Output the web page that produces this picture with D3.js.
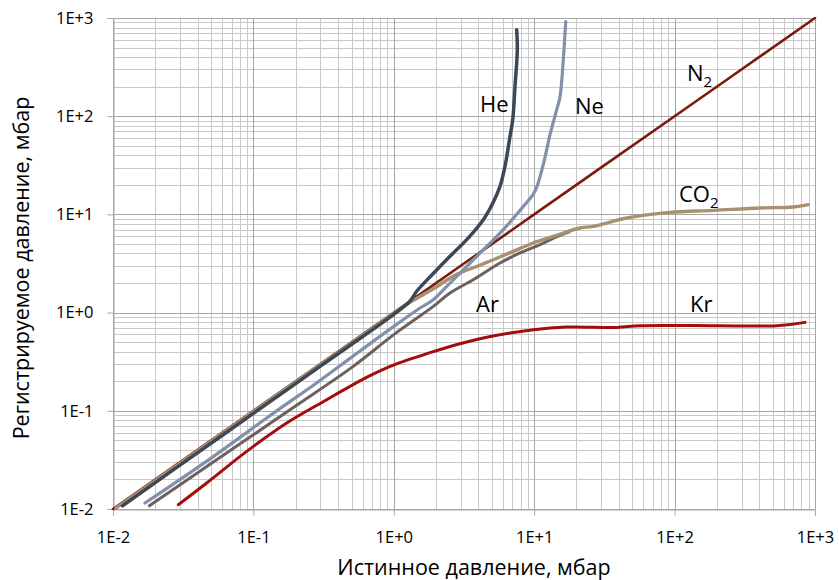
<!DOCTYPE html>
<html>
<head>
<meta charset="utf-8">
<script src="https://cdn.jsdelivr.net/npm/d3@7"></script>
<style>
  html, body { margin: 0; padding: 0; background: #ffffff; }
  svg { display: block; }
  text { font-family: "Open Sans", "Noto Sans", sans-serif; fill: #000; }
</style>
</head>
<body>
<svg id="chart" width="839" height="580"></svg>
<script>
// ---------- data ----------
const axisTicks = [0.01, 0.1, 1, 10, 100, 1000];
const axisTickLabels = ["1E-2", "1E-1", "1E+0", "1E+1", "1E+2", "1E+3"];

const n2X = [0.01, 0.1, 1, 10, 100, 1000];
const n2Y = [0.01, 0.1, 1, 10, 100, 1000];

const arX = [0.01784, 0.05, 0.1823, 0.5, 1.0, 1.911, 2.513, 3.684, 5.707, 7.924, 11.0, 14.5, 18.0];
const arY = [0.01063, 0.029, 0.1026, 0.275, 0.596, 1.156, 1.584, 2.163, 3.2, 4.05, 4.91, 5.95, 6.7];

const co2X = [0.0105, 0.1, 1.0, 1.3, 1.537, 1.911, 2.805, 3.894, 5.112, 7.098, 9.853, 13.68, 21.2, 26.35, 45.6, 92.7, 188.7, 405.7, 700.6, 895.7];
const co2Y = [0.0102, 0.098, 0.98, 1.27, 1.46, 1.75, 2.45, 2.95, 3.457, 4.2, 5.114, 5.97, 7.27, 7.55, 9.19, 10.48, 10.98, 11.62, 11.9, 12.56];

const neX = [0.0169, 0.05, 0.1244, 0.3, 0.4875, 1.0, 1.537, 1.911, 2.513, 3.306, 4.588, 6.025, 8.362, 9.806, 10.47, 11.74, 12.96, 14.47, 15.27, 16.12, 16.77];
const neY = [0.0115, 0.033, 0.0845, 0.205, 0.342, 0.724, 1.114, 1.353, 2.0, 2.954, 4.72, 6.99, 12.06, 15.87, 19.28, 34.4, 64.8, 116.5, 158, 376, 917];

const heX = [0.0117, 0.03, 0.1, 0.3, 1.0, 1.3, 1.456, 1.911, 2.513, 3.306, 4.341, 5.087, 5.707, 6.194, 6.723, 7.03, 7.3, 7.58, 7.5];
const heY = [0.0108, 0.028, 0.094, 0.285, 0.96, 1.3, 1.65, 2.5, 3.74, 5.53, 8.83, 13.15, 19.3, 30.8, 62.3, 92, 201, 475, 760];

const krX = [0.02918, 0.04649, 0.0896, 0.1727, 0.3328, 0.4875, 0.677, 0.9918, 1.811, 2.962, 4.588, 9.853, 17.04, 38.7, 56.7, 200, 533.5, 849];
const krY = [0.01106, 0.0184, 0.0386, 0.0751, 0.1297, 0.1772, 0.2277, 0.2914, 0.3906, 0.4823, 0.5617, 0.67, 0.713, 0.707, 0.736, 0.736, 0.736, 0.795];

const seriesNames = ["N2", "Ar", "CO2", "Ne", "He", "Kr"];

// ---------- layout ----------
const svg = d3.select("#chart");
const L = 113, R = 815, T = 18, B = 509;

const x = d3.scaleLog().domain([0.01, 1000]).range([L, R]);
const y = d3.scaleLog().domain([0.01, 1000]).range([B, T]);

// minor grid values
const minor = [];
for (let e = -2; e < 3; e++) for (let k = 2; k <= 9; k++) minor.push(k * Math.pow(10, e));

const grid = svg.append("g");
grid.selectAll(".vmin").data(minor).enter().append("line")
  .attr("x1", d => Math.round(x(d)) + 0.5).attr("x2", d => Math.round(x(d)) + 0.5)
  .attr("y1", T).attr("y2", B).attr("stroke", "#c9c9c9").attr("stroke-width", 1);
grid.selectAll(".hmin").data(minor).enter().append("line")
  .attr("y1", d => Math.round(y(d)) + 0.5).attr("y2", d => Math.round(y(d)) + 0.5)
  .attr("x1", L).attr("x2", R).attr("stroke", "#c9c9c9").attr("stroke-width", 1);
grid.selectAll(".vmaj").data(axisTicks).enter().append("line")
  .attr("x1", d => Math.round(x(d)) + 0.5).attr("x2", d => Math.round(x(d)) + 0.5)
  .attr("y1", T).attr("y2", B).attr("stroke", "#a6a6a6").attr("stroke-width", 1);
grid.selectAll(".hmaj").data(axisTicks).enter().append("line")
  .attr("y1", d => Math.round(y(d)) + 0.5).attr("y2", d => Math.round(y(d)) + 0.5)
  .attr("x1", L).attr("x2", R).attr("stroke", "#a6a6a6").attr("stroke-width", 1);

// axes
const xAxis = d3.axisBottom(x).tickValues(axisTicks).tickSize(6).tickPadding(16)
  .tickFormat((d, i) => axisTickLabels[i]);
const yAxis = d3.axisLeft(y).tickValues(axisTicks).tickSize(6).tickPadding(14)
  .tickFormat((d, i) => axisTickLabels[i]);

const gx = svg.append("g").attr("transform", `translate(0,${B + 0.5})`).call(xAxis);
const gy = svg.append("g").attr("transform", `translate(${L + 0.5},0)`).call(yAxis);
[gx, gy].forEach(g => {
  g.select(".domain").attr("stroke", "#a6a6a6");
  g.selectAll(".tick line").attr("stroke", "#a6a6a6");
  g.selectAll(".tick text").attr("font-family", "'Open Sans', sans-serif")
    .attr("font-size", 16.5).attr("fill", "#000");
});

// series
const line = d3.line().x(d => x(d[0])).y(d => y(d[1])).curve(d3.curveCatmullRom.alpha(0.5));
const zip = (a, b) => a.map((v, i) => [v, b[i]]);
const series = [
  { name: "N2", data: zip(n2X, n2Y), color: "#7b1a10", w: 2.6 },
  { name: "Ar", data: zip(arX, arY), color: "#6e615c", w: 3 },
  { name: "CO2", data: zip(co2X, co2Y), color: "#a8916f", w: 3.4 },
  { name: "Ne", data: zip(neX, neY), color: "#8390ab", w: 3.2 },
  { name: "He", data: zip(heX, heY), color: "#3d4856", w: 3.5 },
  { name: "Kr", data: zip(krX, krY), color: "#a50d0d", w: 3 }
];
svg.append("g").selectAll("path").data(series).enter().append("path")
  .attr("d", d => line(d.data))
  .attr("fill", "none")
  .attr("stroke", d => d.color)
  .attr("stroke-width", d => d.w)
  .attr("stroke-linecap", d => d.name === "Ar" ? "butt" : "round")
  .attr("stroke-linejoin", "round");

// series labels
const labelFont = 22;
function addLabel(main, sub, lx, ly) {
  const t = svg.append("text").attr("x", lx).attr("y", ly).attr("font-size", labelFont);
  t.append("tspan").text(main);
  if (sub) t.append("tspan").attr("dy", 6).attr("font-size", 15).text(sub);
}
addLabel("He", null, 480, 111.5);
addLabel("Ne", null, 575, 114);
addLabel("N", "2", 687, 81);
addLabel("CO", "2", 679, 201.5);
addLabel("Ar", null, 476, 311.5);
addLabel("Kr", null, 690, 311.5);

// axis titles
svg.append("text").attr("x", 474).attr("y", 574.5).attr("text-anchor", "middle")
  .attr("font-size", 21.5).text("Истинное давление, мбар");
svg.append("text").attr("transform", "translate(29,268) rotate(-90)").attr("text-anchor", "middle")
  .attr("font-size", 21.5).text("Регистрируемое давление, мбар");
</script>
</body>
</html>
